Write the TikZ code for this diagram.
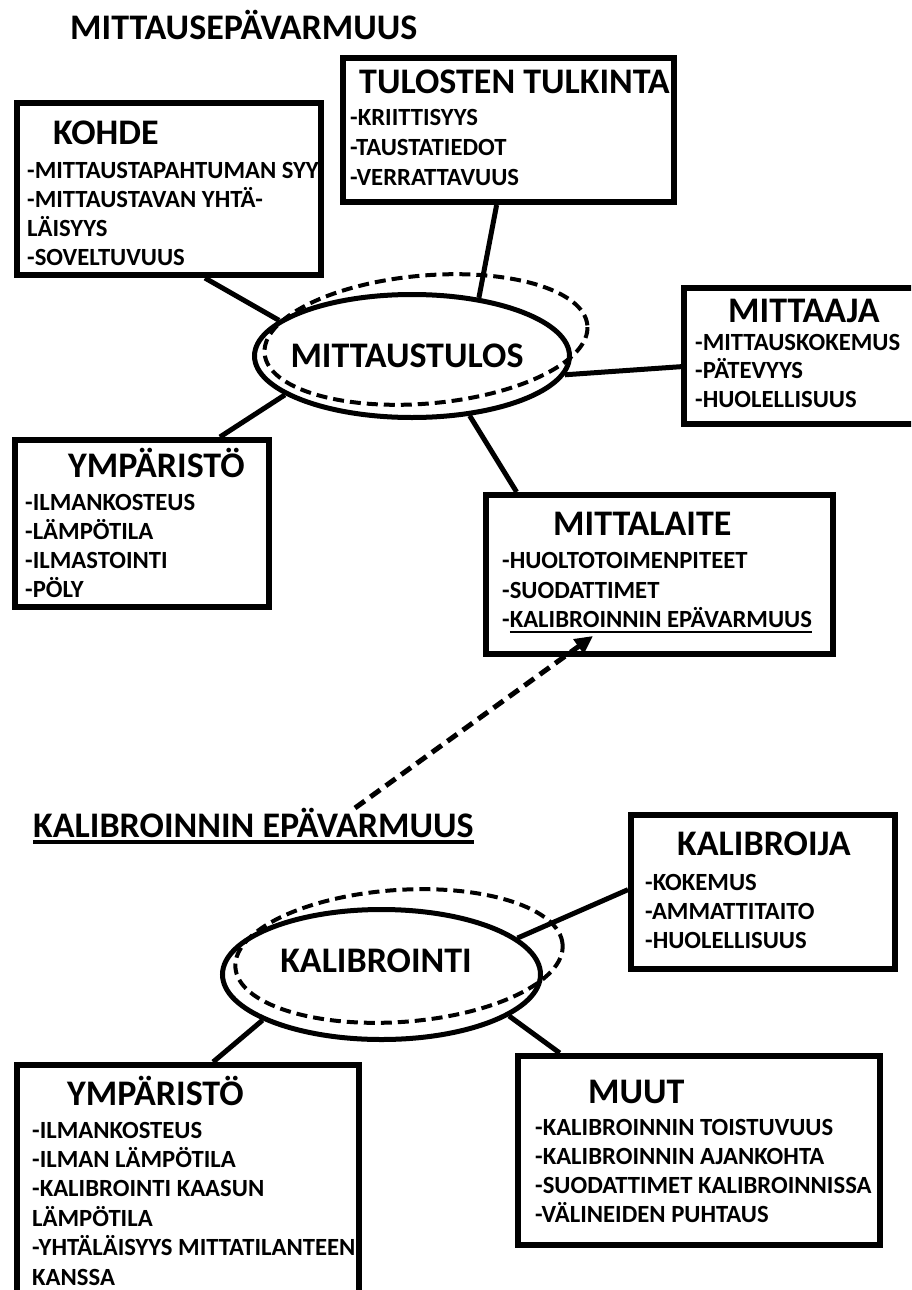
\documentclass[tikz,border=0pt]{standalone}
\usepackage{fontspec}
\setmainfont{Carlito}
\usetikzlibrary{shapes.geometric,arrows.meta}
\newcommand\myul[3]{\setbox0\hbox{#3}\rlap{\rule[-#1]{\wd0}{#2}}\box0}
\begin{document}
\begin{tikzpicture}[x=1pt, y=1pt,
  box/.style={draw, line width=6pt, rectangle, inner sep=0pt},
  oval/.style={draw, line width=5pt, ellipse, inner sep=0pt},
  dashoval/.style={line width=4pt, dash pattern=on 11pt off 6pt},
  link/.style={line width=5pt},
  ttl/.style={font=\fontsize{36}{40}\selectfont\bfseries, inner sep=0pt, anchor=base west},
  itm/.style={font=\fontsize{24.7}{28}\selectfont\bfseries, inner sep=0pt, anchor=base west},
]
\useasboundingbox (0,0) rectangle (911,-1290);
\clip (0,0) rectangle (911,-1290);

% ---------- headings ----------
\node[ttl] (title) at (70,-40) {MITTAUSEPÄVARMUUS};
\node[ttl] (kalhead) at (33,-837) {\myul{7pt}{4pt}{KALIBROINNIN EPÄVARMUUS}};

% ---------- boxes ----------
\node[box, minimum width=304pt, minimum height=172pt] (kohde) at (169,-189) {};
\node[box, minimum width=331pt, minimum height=144pt] (tulk) at (508.5,-130) {};
\node[box, minimum width=238pt, minimum height=136pt] (mittaaja) at (803,-356) {};
\node[box, minimum width=254pt, minimum height=167pt] (ymp1) at (142,-523.5) {};
\node[box, minimum width=347pt, minimum height=159pt] (laite) at (659.5,-574.5) {};
\node[box, minimum width=264pt, minimum height=154pt] (kalij) at (763,-892) {};
\node[box, minimum width=342pt, minimum height=252pt] (ymp2) at (188,-1191) {};
\node[box, minimum width=362pt, minimum height=189pt] (muut) at (699,-1150.5) {};

% ---------- ovals ----------
\draw[dashoval, rotate around={5:(426,-339.5)}] (426,-339.5) ellipse [x radius=162pt, y radius=64pt];
\node[oval, minimum width=315pt, minimum height=123pt] (mt) at (412,-356) {};
\node[ttl, anchor=base] (mtT) at (407,-367) {MITTAUSTULOS};

\draw[dashoval, rotate around={4:(399,-956)}] (399,-956) ellipse [x radius=164pt, y radius=66pt];
\node[oval, minimum width=318pt, minimum height=130pt] (kal) at (381.5,-974.5) {};
\node[ttl, anchor=base] (kalT) at (376,-972) {KALIBROINTI};

% ---------- box texts ----------
\node[ttl] (kohdeT) at (53,-144) {KOHDE};
\foreach \t [count=\i] in {-MITTAUSTAPAHTUMAN SYY,-MITTAUSTAVAN YHTÄ-,LÄISYYS,-SOVELTUVUUS}
  \node[itm] (kohde-\i) at (27,{-178-29*(\i-1)}) {\t};

\node[ttl] (tulkT) at (359,-93) {TULOSTEN TULKINTA};
\foreach \t [count=\i] in {-KRIITTISYYS,-TAUSTATIEDOT,-VERRATTAVUUS}
  \node[itm] (tulk-\i) at (350,{-125-30*(\i-1)}) {\t};

\node[ttl] (mittaajaT) at (728,-322) {MITTAAJA};
\foreach \t [count=\i] in {-MITTAUSKOKEMUS,-PÄTEVYYS,-HUOLELLISUUS}
  \node[itm] (mittaaja-\i) at (695,{-350-28.5*(\i-1)}) {\t};

\node[ttl] (ymp1T) at (68,-477) {YMPÄRISTÖ};
\foreach \t [count=\i] in {-ILMANKOSTEUS,-LÄMPÖTILA,-ILMASTOINTI,-PÖLY}
  \node[itm] (ymp1-\i) at (25,{-510-29.3*(\i-1)}) {\t};

\node[ttl] (laiteT) at (553,-535) {MITTALAITE};
\node[itm] (laite-1) at (502,-568) {-HUOLTOTOIMENPITEET};
\node[itm] (laite-2) at (502,-598) {-SUODATTIMET};
\node[itm] (laite-3) at (502,-627) {-\myul{5.5pt}{2pt}{KALIBROINNIN EPÄVARMUUS}};

\node[ttl] (kalijT) at (677,-855) {KALIBROIJA};
\foreach \t [count=\i] in {-KOKEMUS,-AMMATTITAITO,-HUOLELLISUUS}
  \node[itm] (kalij-\i) at (645,{-890-29*(\i-1)}) {\t};

\node[ttl] (ymp2T) at (67,-1105) {YMPÄRISTÖ};
\foreach \t [count=\i] in {-ILMANKOSTEUS,-ILMAN LÄMPÖTILA,-KALIBROINTI KAASUN,LÄMPÖTILA,-YHTÄLÄISYYS MITTATILANTEEN,KANSSA}
  \node[itm] (ymp2-\i) at (32,{-1138-29.4*(\i-1)}) {\t};

\node[ttl] (muutT) at (588,-1103) {MUUT};
\foreach \t [count=\i] in {-KALIBROINNIN TOISTUVUUS,-KALIBROINNIN AJANKOHTA,-SUODATTIMET KALIBROINNISSA,-VÄLINEIDEN PUHTAUS}
  \node[itm] (muut-\i) at (535,{-1135-29.3*(\i-1)}) {\t};

% ---------- connectors ----------
\draw[link] (kohde.-68) -- (mt.165.6);
\draw[link] (tulk.261.3) -- (mt.41.8);
\draw[link] (mittaaja.185.2) -- (mt.-7.4);
\draw[link] (ymp1.48) -- (mt.197.6);
\draw[link] (laite.150.6) -- (mt.-46);

\draw[link] (kalij.179.2) -- (kal.15.7);
\draw[link] (ymp2.79) -- (kal.201);
\draw[link] (muut.145.9) -- (kal.-18.3);

\coordinate (arrS) at (355,-808);
\coordinate (arrE) at (593,-636);
\draw[link, dash pattern=on 12pt off 7pt, -{Triangle[length=18pt,width=17pt]}] (arrS) -- (arrE);
\end{tikzpicture}
\end{document}
